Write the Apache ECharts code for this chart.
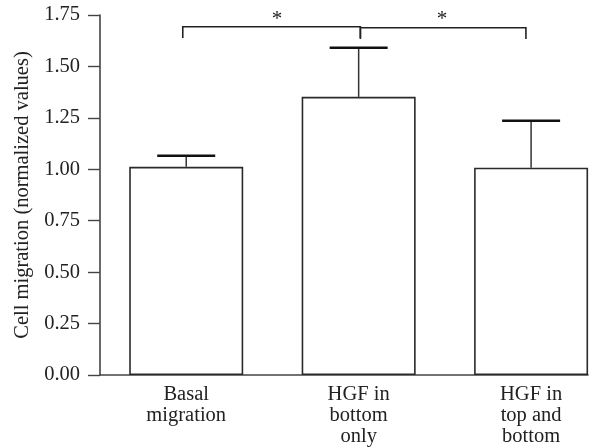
<!DOCTYPE html>
<html>
<head>
<meta charset="utf-8">
<script src="https://cdn.jsdelivr.net/npm/echarts@6/dist/echarts.min.js"></script>
<style>html,body{margin:0;padding:0;background:#fff}#c{width:614px;height:448px}</style>
</head>
<body>
<div id="c"></div>
<script>
var categories = ['Basal\nmigration', 'HGF in\nbottom\nonly', 'HGF in\ntop and\nbottom'];
var positions = [1, 2, 3];
var means = [1.012, 1.352, 1.008];
var errTops = [1.066, 1.591, 1.236];
var yTicks = [0, 0.25, 0.5, 0.75, 1.0, 1.25, 1.5, 1.75];
// brackets: [xStart, xEnd, yLine, yDropEnd]
var brackets = [[0.98, 2.01, 1.693, 1.638], [2.01, 2.97, 1.688, 1.633]];
var stars = [[1.527, 1.73], [2.484, 1.73]];

var FONT = 'Liberation Serif';
var chart = echarts.init(document.getElementById('c'), null, {renderer: 'canvas'});

var barData = positions.map(function (p, i) { return [p, means[i]]; });
var errData = positions.map(function (p, i) { return [p, means[i], errTops[i]]; });

chart.setOption({
  animation: false,
  backgroundColor: '#fff',
  grid: {left: 100, right: 26, top: 15, bottom: 73, containLabel: false},
  xAxis: {
    type: 'value', min: 0.5, max: 3.33,
    axisLine: {show: true, onZero: false, lineStyle: {color: '#444', width: 1.6}},
    axisTick: {show: false},
    splitLine: {show: false},
    axisLabel: {
      customValues: positions,
      margin: 9,
      fontFamily: FONT, fontSize: 20.5, color: '#222', lineHeight: 21,
      formatter: function (v) {
        var idx = positions.indexOf(Math.round(v));
        return (idx >= 0 && Math.abs(v - Math.round(v)) < 1e-6) ? categories[idx] : '';
      }
    }
  },
  yAxis: {
    type: 'value', min: 0, max: 1.75, interval: 0.25,
    name: 'Cell migration (normalized values)',
    nameLocation: 'middle', nameGap: 62, nameRotate: 90,
    nameTextStyle: {fontFamily: FONT, fontSize: 20.5, color: '#222'},
    axisLine: {show: true, lineStyle: {color: '#444', width: 1.6}},
    axisTick: {show: true, inside: false, length: 12, lineStyle: {color: '#444', width: 1.4}},
    splitLine: {show: false},
    axisLabel: {
      margin: 20, fontFamily: FONT, fontSize: 20.5, color: '#222',
      formatter: function (v) { return v.toFixed(2); }
    }
  },
  series: [
    {
      type: 'bar', data: barData, barWidth: 114,
      itemStyle: {color: '#fff', borderColor: '#2a2a2a', borderWidth: 1.6},
      z: 2
    },
    {
      type: 'custom', data: errData, z: 3,
      renderItem: function (params, api) {
        var x = api.value(0);
        var b = api.coord([x, api.value(1)]);
        var t = api.coord([x, api.value(2)]);
        return {
          type: 'group',
          children: [
            {type: 'line', shape: {x1: b[0], y1: b[1], x2: t[0], y2: t[1]}, style: {stroke: '#333', lineWidth: 1.5}},
            {type: 'line', shape: {x1: t[0] - 29, y1: t[1], x2: t[0] + 29, y2: t[1]}, style: {stroke: '#111', lineWidth: 2.5}}
          ]
        };
      }
    },
    {
      type: 'custom', data: brackets, z: 4,
      renderItem: function (params, api) {
        var a = api.coord([api.value(0), api.value(2)]);
        var c = api.coord([api.value(1), api.value(2)]);
        var ad = api.coord([api.value(0), api.value(3)]);
        var cd = api.coord([api.value(1), api.value(3)]);
        return {
          type: 'polyline',
          shape: {points: [[ad[0], ad[1]], [a[0], a[1]], [c[0], c[1]], [cd[0], cd[1]]]},
          style: {stroke: '#222', lineWidth: 1.6, fill: null}
        };
      }
    },
    {
      type: 'custom', data: stars, z: 4,
      renderItem: function (params, api) {
        var p = api.coord([api.value(0), api.value(1)]);
        return {
          type: 'text', x: p[0], y: p[1],
          style: {text: '*', fontFamily: FONT, fontSize: 21, fill: '#222', align: 'center', verticalAlign: 'middle'}
        };
      }
    }
  ]
});
</script>
</body>
</html>
